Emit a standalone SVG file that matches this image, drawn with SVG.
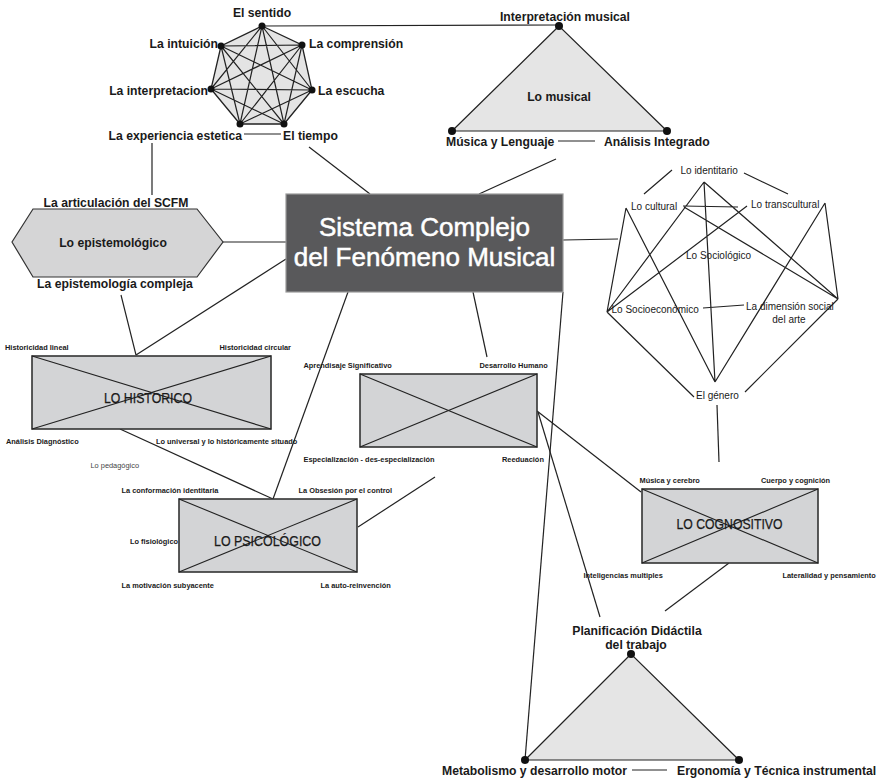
<svg xmlns="http://www.w3.org/2000/svg" width="882" height="779" viewBox="0 0 882 779">
<style>
.b{font-family:"Liberation Sans",Arial,sans-serif;font-weight:bold;font-size:12.2px;fill:#1a1a1a}
.s{font-family:"Liberation Sans",Arial,sans-serif;font-weight:bold;font-size:7.4px;fill:#1a1a1a}
.n{font-family:"Liberation Sans",Arial,sans-serif;font-size:10px;fill:#1a1a1a}
.big{font-family:"Liberation Sans",Arial,sans-serif;font-size:14px;fill:#1a1a1a;stroke:#1a1a1a;stroke-width:0.25}
.t{font-family:"Liberation Sans",Arial,sans-serif;font-size:26px;fill:#fff;stroke:#fff;stroke-width:0.5}
.ln{stroke:#222;stroke-width:1.2;fill:none}
.box{fill:#d3d4d6;stroke:#333;stroke-width:1.6}
.dg{stroke:#222;stroke-width:1.1}
.tri{fill:#e5e5e5;stroke:#222;stroke-width:1.2}
.dot{fill:#111}
</style>
<rect width="882" height="779" fill="#fff"/>

<g id="connectors" class="ln">
<line x1="262" y1="26" x2="559" y2="25"/>
<line x1="152" y1="143" x2="152" y2="195"/>
<line x1="309" y1="147" x2="370" y2="194"/>
<line x1="479" y1="194" x2="556" y2="159"/>
<line x1="223" y1="242" x2="286" y2="242"/>
<line x1="563" y1="240" x2="618" y2="239"/>
<line x1="286" y1="259" x2="136" y2="355"/>
<line x1="121" y1="295" x2="136" y2="355"/>
<line x1="348" y1="292" x2="273" y2="499"/>
<line x1="120" y1="429" x2="273" y2="499"/>
<line x1="473" y1="292" x2="487" y2="357"/>
<line x1="563" y1="292" x2="525" y2="760"/>
<line x1="537" y1="411" x2="641" y2="492"/>
<line x1="538" y1="412" x2="600" y2="617"/>
<line x1="435" y1="477" x2="358" y2="527"/>
<line x1="729" y1="563" x2="665" y2="611"/>
<line x1="717" y1="405" x2="719" y2="462"/>
<line x1="558" y1="141" x2="595" y2="141"/>
<line x1="244" y1="134" x2="281" y2="134"/>
<line x1="632" y1="770" x2="667" y2="770"/>
</g>

<g id="heptagon">
<polygon points="262,26 302,45 312,90 284,124 240,124 211,89 221,46" fill="#e4e4e4" stroke="#222" stroke-width="1.3"/>
<path class="ln" d="M262,26L312,90M262,26L284,124M262,26L240,124M262,26L211,89M302,45L284,124M302,45L240,124M302,45L211,89M302,45L221,46M312,90L240,124M312,90L211,89M312,90L221,46M284,124L211,89M284,124L221,46M240,124L221,46"/>
<g class="dot">
<circle cx="262" cy="26" r="3.5"/><circle cx="302" cy="45" r="3.5"/><circle cx="312" cy="90" r="3.5"/><circle cx="284" cy="124" r="3.5"/><circle cx="240" cy="124" r="3.5"/><circle cx="211" cy="89" r="3.5"/><circle cx="221" cy="46" r="3.5"/>
</g>
<text class="b" x="262" y="16.5" text-anchor="middle">El sentido</text>
<text class="b" x="218" y="47.5" text-anchor="end">La intuición</text>
<text class="b" x="309" y="47.5">La comprensión</text>
<text class="b" x="208" y="94.5" text-anchor="end">La interpretacion</text>
<text class="b" x="318" y="94.5">La escucha</text>
<text class="b" x="242" y="139.5" text-anchor="end">La experiencia estetica</text>
<text class="b" x="283" y="139.5">El tiempo</text>
</g>

<g id="lo-musical">
<polygon class="tri" points="559,26 452,131 667,131"/>
<circle class="dot" cx="559" cy="26" r="4"/><circle class="dot" cx="452" cy="131" r="4"/><circle class="dot" cx="667" cy="131" r="4"/>
<text class="b" x="565" y="20.5" text-anchor="middle">Interpretación musical</text>
<text class="b" x="559" y="100.5" text-anchor="middle">Lo musical</text>
<text class="b" x="446" y="146">Música y Lenguaje</text>
<text class="b" x="604" y="146">Análisis Integrado</text>
</g>

<g id="lo-epistemologico">
<polygon points="33,209 197,209 223,242 197,277 33,277 12,242" fill="#d5d5d6" stroke="#333" stroke-width="1.2"/>
<text class="b" x="116" y="207" text-anchor="middle">La articulación del SCFM</text>
<text class="b" x="113" y="246.5" text-anchor="middle">Lo epistemológico</text>
<text class="b" x="115" y="288" text-anchor="middle">La epistemología compleja</text>
</g>

<g id="sistema">
<rect x="286" y="194" width="277" height="98" fill="#59595b" stroke="#9a9a9a" stroke-width="1.2"/>
<text class="t" x="424.5" y="236" text-anchor="middle">Sistema Complejo</text>
<text class="t" x="424.5" y="265.5" text-anchor="middle">del Fenómeno Musical</text>
</g>

<g id="lo-sociologico">
<path class="ln" stroke-width="1.1" d="M672,170L644,194M744,173L788,194M683,206L738,207M704,182L607,312M704,182L715,382M704,182L838,299M626,208L607,312M626,208L715,382M684,207L838,299M747,206L607,312M825,203L838,299M825,203L715,382M607,312L694,397M838,299L745,392M703,308L744,305"/>
<text class="n" x="680.5" y="173.5">Lo identitario</text>
<text class="n" x="631" y="210">Lo cultural</text>
<text class="n" x="751" y="207.5">Lo transcultural</text>
<text class="n" x="686" y="258.5">Lo Sociológico</text>
<text class="n" x="611.5" y="312.5">Lo Socioeconómico</text>
<text class="n" x="746" y="309.5">La dimensión social</text>
<text class="n" x="789" y="323" text-anchor="middle">del  arte</text>
<text class="n" x="696" y="398.5">El género</text>
</g>

<g id="lo-historico">
<rect class="box" x="32" y="356" width="239" height="73"/>
<path class="dg" d="M32,356L271,429M271,356L32,429"/>
<text class="big" x="148" y="402.5" text-anchor="middle" textLength="88" lengthAdjust="spacingAndGlyphs">LO HISTORICO</text>
<text class="s" x="5" y="350">Historicidad lineal</text>
<text class="s" x="219.5" y="350">Historicidad circular</text>
<text class="s" x="6" y="443.5">Análisis Diagnóstico</text>
<text class="s" x="156" y="443.5">Lo universal y lo históricamente situado</text>
<text class="s" x="90.5" y="467.5" style="font-weight:normal;fill:#444">Lo pedagógico</text>
</g>

<g id="lo-central">
<rect class="box" x="360" y="374" width="177" height="73"/>
<path class="dg" d="M360,374L537,447M537,374L360,447"/>
<text class="s" x="303.5" y="367.7">Aprendisaje Significativo</text>
<text class="s" x="479.5" y="367.7">Desarrollo Humano</text>
<text class="s" x="303.5" y="462">Especialización - des-especialización</text>
<text class="s" x="502" y="462">Reeduación</text>
</g>

<g id="lo-psicologico">
<rect class="box" x="179" y="499" width="178" height="73"/>
<path class="dg" d="M179,499L357,572M357,499L179,572"/>
<text class="big" x="267.5" y="545.5" text-anchor="middle" textLength="107" lengthAdjust="spacingAndGlyphs">LO PSICOLÓGICO</text>
<text class="s" x="121.5" y="493.4">La conformación identitaria</text>
<text class="s" x="298.5" y="493.4">La Obsesión por el control</text>
<text class="s" x="130" y="543.7">Lo fisiológico</text>
<text class="s" x="121.5" y="587.7">La motivación subyacente</text>
<text class="s" x="320.5" y="587.7">La auto-reinvención</text>
</g>

<g id="lo-cognositivo">
<rect class="box" x="642" y="489" width="176" height="74"/>
<path class="dg" d="M642,489L818,563M818,489L642,563"/>
<text class="big" x="729.5" y="529.3" text-anchor="middle" textLength="106" lengthAdjust="spacingAndGlyphs">LO COGNOSITIVO</text>
<text class="s" x="639.5" y="483.4">Música y cerebro</text>
<text class="s" x="761" y="483.4">Cuerpo y cognición</text>
<text class="s" x="583.5" y="577.7">Inteligencias multiples</text>
<text class="s" x="782.5" y="577.7">Lateralidad y pensamiento</text>
</g>

<g id="planificacion">
<polygon class="tri" points="631,654 525,760 739,760"/>
<circle class="dot" cx="631" cy="654" r="4"/><circle class="dot" cx="525" cy="760" r="4"/><circle class="dot" cx="739" cy="760" r="4"/>
<text class="b" x="637" y="634.5" text-anchor="middle">Planificación Didáctila</text>
<text class="b" x="636" y="649" text-anchor="middle">del trabajo</text>
<text class="b" x="442" y="775">Metabolismo y desarrollo motor</text>
<text class="b" x="677" y="775">Ergonomía y Técnica instrumental</text>
</g>
</svg>
